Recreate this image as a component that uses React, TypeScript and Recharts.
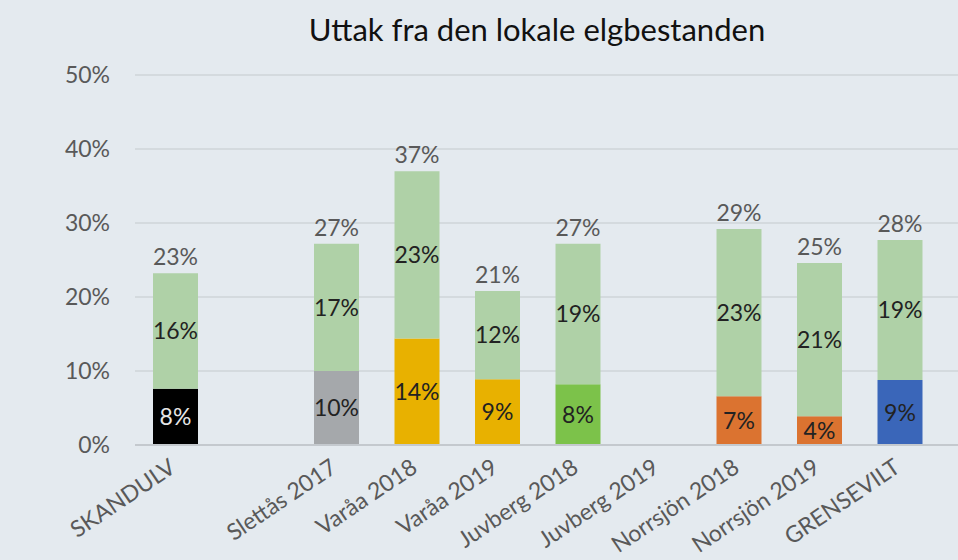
import React from 'react';
import { BarChart, Bar, XAxis, YAxis, CartesianGrid, Cell, LabelList } from 'recharts';

const categories = [
  'SKANDULV',
  '',
  'Slettås 2017',
  'Varåa 2018',
  'Varåa 2019',
  'Juvberg 2018',
  'Juvberg 2019',
  'Norrsjön 2018',
  'Norrsjön 2019',
  'GRENSEVILT',
];

// share taken by own hunters (bottom) and other take (top), percent
const ownValues = [7.6, null, 10.0, 14.4, 8.9, 8.2, null, 6.6, 3.9, 8.8];
const otherValues = [15.6, null, 17.2, 22.6, 11.9, 19.0, null, 22.6, 20.7, 18.9];
const ownColors = ['#000000', '#a5a8ab', '#a5a8ab', '#e8b100', '#e8b100', '#7cc24a', '#7cc24a', '#db7330', '#db7330', '#3a66b9'];
const yTicks = [0, 10, 20, 30, 40, 50];

const data = categories.map((name, i) => ({
  name,
  own: ownValues[i],
  other: otherValues[i],
  total: ownValues[i] == null ? null : (ownValues[i] as number) + (otherValues[i] as number),
}));

const font = 'Lato, "Open Sans", sans-serif';
const pct = (v: any) => (v == null ? '' : `${Math.round(Number(v))}%`);

const XTick = (props: any) => {
  const { x, y, payload } = props;
  return (
    <g transform={`translate(${x + 2},${y + 18}) rotate(-34)`}>
      <text textAnchor="end" fill="#595959" fontSize={23} fontFamily={font}>
        {payload.value}
      </text>
    </g>
  );
};

const App: React.FC = () => {
  return (
    <div style={{ position: 'absolute', left: 0, top: 0, width: 958, height: 560, background: '#e4eaef', fontFamily: font }}>
      <div style={{ position: 'absolute', top: 10, left: 0, width: 1074, textAlign: 'center', fontSize: 31, color: '#111' }}>
        Uttak fra den lokale elgbestanden
      </div>
      <BarChart
        width={958}
        height={560}
        data={data}
        margin={{ top: 75, right: 0, bottom: 0, left: 0 }}
        barSize={45}
      >
        <CartesianGrid vertical={false} stroke="#cfd4d9" strokeWidth={1.5} />
        <XAxis
          dataKey="name"
          tick={<XTick />}
          tickLine={false}
          axisLine={{ stroke: '#c4c9ce', strokeWidth: 2 }}
          height={115}
          interval={0}
          padding={{ left: 0, right: 18 }}
        />
        <YAxis
          width={135}
          domain={[0, 50]}
          ticks={yTicks}
          tickFormatter={(v) => `${v}%`}
          tickLine={false}
          axisLine={false}
          tickMargin={19}
          tick={{ fill: '#595959', fontSize: 23, fontFamily: font }}
        />
        <Bar dataKey="own" stackId="a" isAnimationActive={false}>
          {data.map((d, i) => (
            <Cell key={`own-${i}`} fill={ownColors[i]} />
          ))}
          <LabelList
            dataKey="own"
            content={(p: any) => {
              const { x, y, width, height, value, index } = p;
              if (value == null) return null;
              return (
                <text
                  x={x + width / 2}
                  y={y + height / 2}
                  dy="0.36em"
                  textAnchor="middle"
                  fontSize={23}
                  fontFamily={font}
                  fill={index === 0 ? '#e6e6e6' : '#222222'}
                >
                  {pct(value)}
                </text>
              );
            }}
          />
        </Bar>
        <Bar dataKey="other" stackId="a" fill="#afd1a7" isAnimationActive={false}>
          <LabelList
            dataKey="other"
            position="center"
            formatter={pct}
            fill="#222222"
            fontSize={23}
            fontFamily={font}
          />
          <LabelList
            dataKey="total"
            position="top"
            offset={8}
            formatter={pct}
            fill="#595959"
            fontSize={23}
            fontFamily={font}
          />
        </Bar>
      </BarChart>
    </div>
  );
};

export default App;
